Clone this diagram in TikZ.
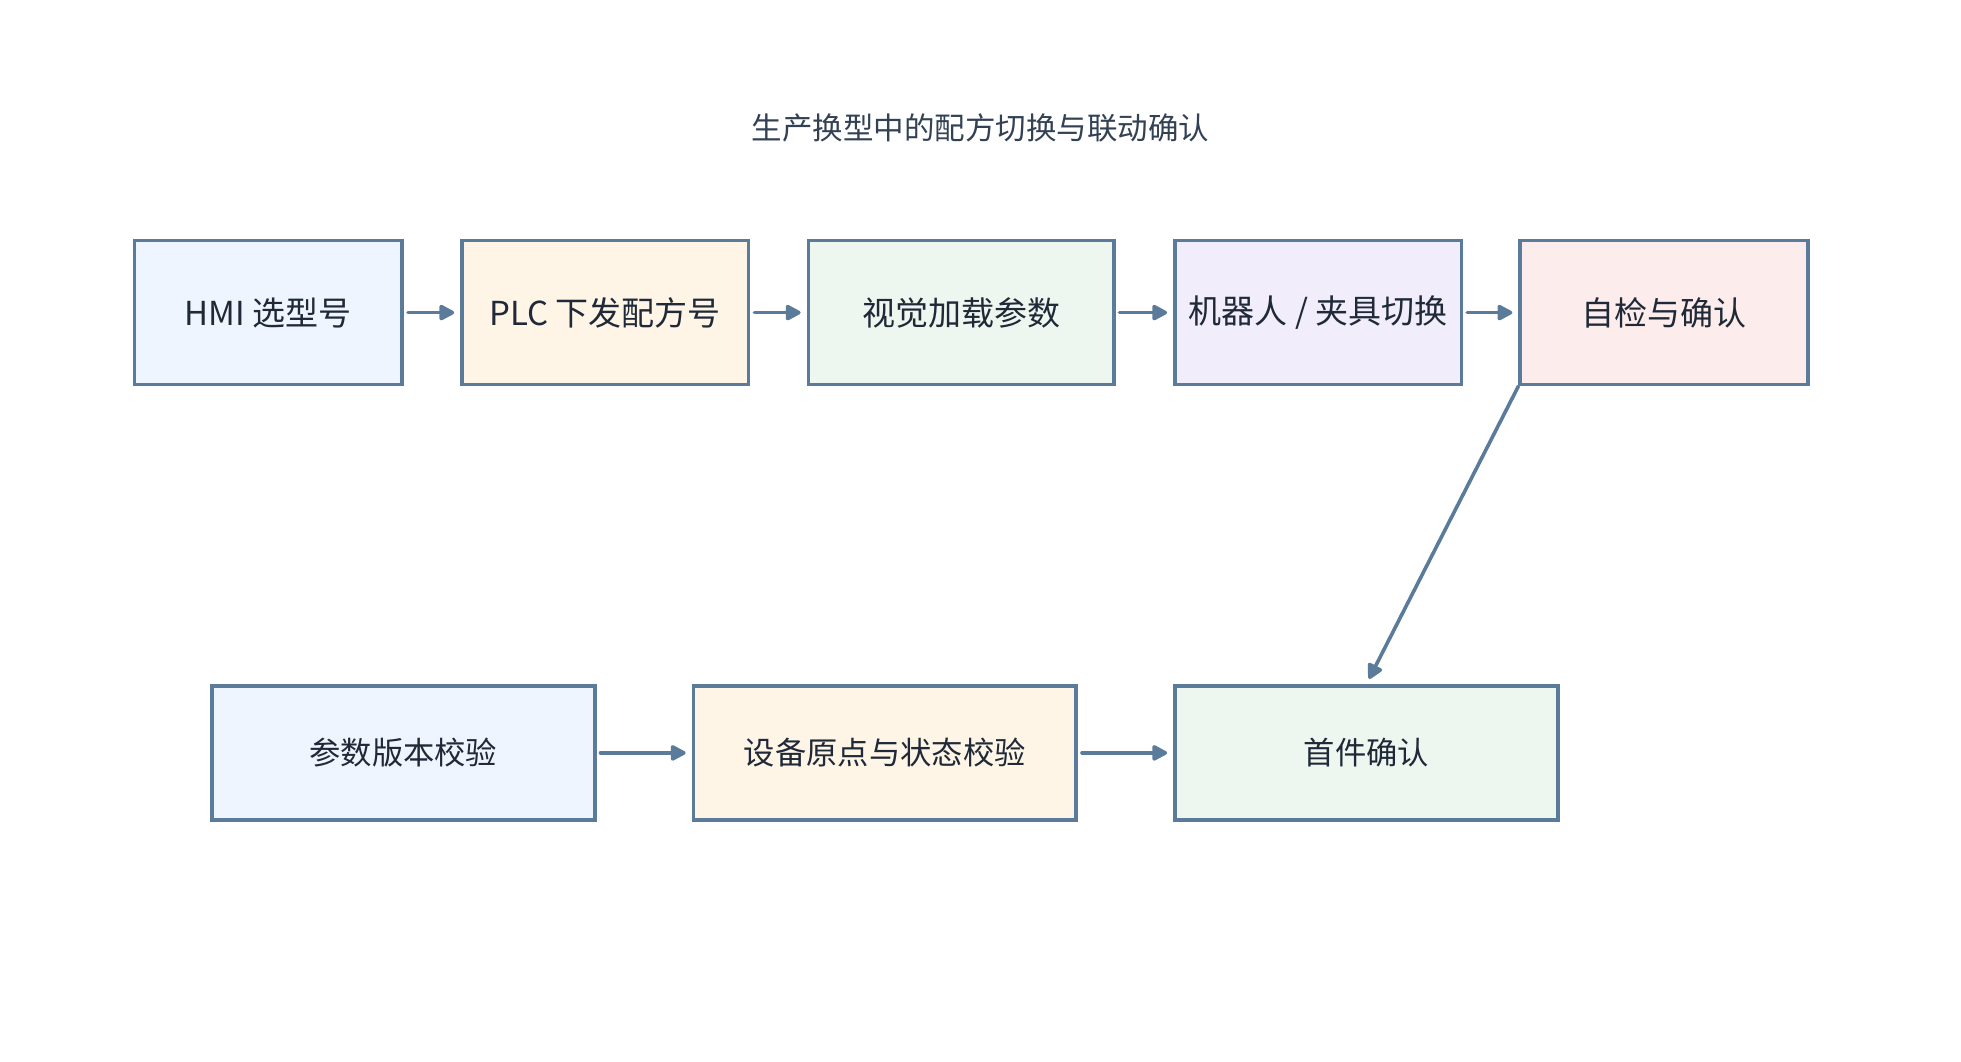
\documentclass[tikz,border=0pt]{standalone}
\usepackage{fontspec}
\setmainfont{Noto Sans CJK SC}
\usetikzlibrary{arrows.meta}

\definecolor{edge}{HTML}{5B7B9A}
\definecolor{ink}{HTML}{1F2937}
\definecolor{titleink}{HTML}{334155}
\definecolor{fillblue}{HTML}{EEF5FE}
\definecolor{fillcream}{HTML}{FEF5E7}
\definecolor{fillgreen}{HTML}{EEF7EF}
\definecolor{filllav}{HTML}{F1EDFB}
\definecolor{fillpink}{HTML}{FCEDEC}

\tikzset{
  stagebox/.style={draw=edge, line width=3.6pt, rectangle, inner sep=0pt,
    text=ink, align=center},
  toprow/.style={stagebox, minimum height=143.9pt, font=\fontsize{33}{38}\selectfont},
  botrow/.style={stagebox, minimum height=133.9pt, minimum width=382.8pt,
    font=\fontsize{31.3}{36}\selectfont},
  flow/.style={draw=edge, line width=3.6pt, line cap=round,
    -{Triangle[length=17pt,width=17pt,round]}, shorten <=4pt, shorten >=6pt}
}

\begin{document}
\begin{tikzpicture}[x=1pt,y=-1pt]
  \useasboundingbox[fill=white] (0,0) rectangle (1961,1062);

  \node[text=titleink, font=\fontsize{30.5}{36}\selectfont] (title) at (980.5,127.6)
    {生产换型中的配方切换与联动确认};

  % upper row
  \node[toprow, fill=fillblue,  minimum width=267.8pt] (hmi)    at (268.3,312.6)  {HMI 选型号};
  \node[toprow, fill=fillcream, minimum width=286.6pt] (plc)    at (605.3,312.6)  {PLC 下发配方号};
  \node[toprow, fill=fillgreen, minimum width=305.3pt] (vision) at (961.05,312.6) {视觉加载参数};
  \node[toprow, fill=filllav,   minimum width=286.5pt] (robot)  at (1318.15,312.6) {机器人 / 夹具切换};
  \node[toprow, fill=fillpink,  minimum width=287.7pt] (check)  at (1663.95,312.6) {自检与确认};

  % lower row
  \node[botrow, fill=fillblue]  (param) at (403.3,752.9)  {参数版本校验};
  \node[botrow, fill=fillcream] (home)  at (884.8,752.9)  {设备原点与状态校验};
  \node[botrow, fill=fillgreen] (first) at (1366.3,752.9) {首件确认};

  % connectors
  \draw[flow] (hmi.east) -- (plc.west);
  \draw[flow] (plc.east) -- (vision.west);
  \draw[flow] (vision.east) -- (robot.west);
  \draw[flow] (robot.east) -- (check.west);
  \draw[flow, shorten <=0pt] (check.south west) -- (first.north);
  \draw[flow] (param.east) -- (home.west);
  \draw[flow] (home.east) -- (first.west);
\end{tikzpicture}
\end{document}
